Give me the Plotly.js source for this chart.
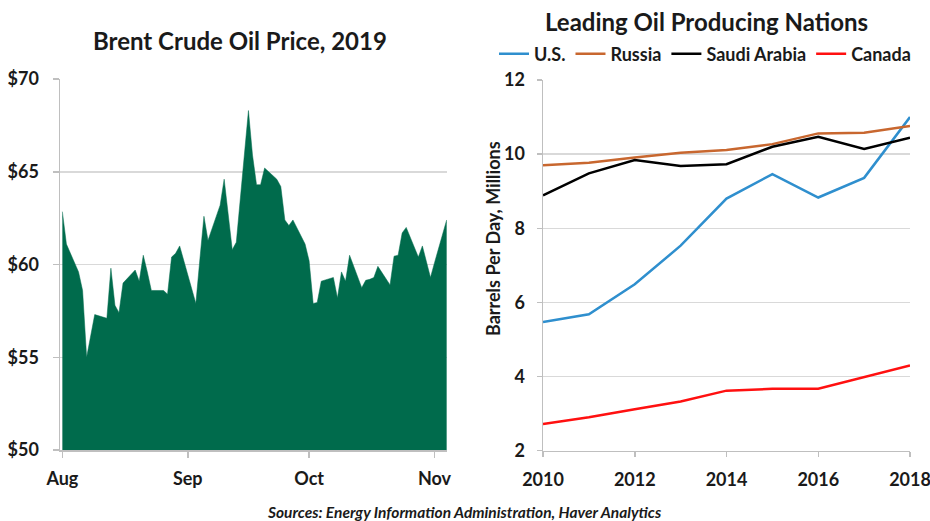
<!DOCTYPE html>
<html>
<head>
<meta charset="utf-8">
<script src="https://cdn.plot.ly/plotly-3.0.1.min.js"></script>
<style>
  html, body { margin: 0; padding: 0; background: #fff; }
  #chart { width: 930px; height: 521px; }
</style>
</head>
<body>
<div id="chart"></div>
<script>
// ---- Left panel data: Brent crude spot price, 2019 ----
const brentDates = [
  '2019-08-01','2019-08-02','2019-08-05','2019-08-06','2019-08-07','2019-08-08','2019-08-09',
  '2019-08-12','2019-08-13','2019-08-14','2019-08-15','2019-08-16',
  '2019-08-19','2019-08-20','2019-08-21','2019-08-22','2019-08-23',
  '2019-08-26','2019-08-27','2019-08-28','2019-08-29','2019-08-30',
  '2019-09-03','2019-09-04','2019-09-05','2019-09-06',
  '2019-09-09','2019-09-10','2019-09-11','2019-09-12','2019-09-13',
  '2019-09-16','2019-09-17','2019-09-18','2019-09-19','2019-09-20',
  '2019-09-23','2019-09-24','2019-09-25','2019-09-26','2019-09-27',
  '2019-09-30','2019-10-01','2019-10-02','2019-10-03','2019-10-04',
  '2019-10-07','2019-10-08','2019-10-09','2019-10-10','2019-10-11',
  '2019-10-14','2019-10-15','2019-10-16','2019-10-17','2019-10-18',
  '2019-10-21','2019-10-22','2019-10-23','2019-10-24','2019-10-25',
  '2019-10-28','2019-10-29','2019-10-30','2019-10-31','2019-11-01',
  '2019-11-04'
];
const brentPrices = [
  62.85, 61.1, 59.6, 58.6, 55.0, 56.2, 57.3,
  57.1, 59.8, 57.8, 57.4, 59.0,
  59.7, 59.1, 60.5, 59.6, 58.6,
  58.6, 58.4, 60.4, 60.6, 61.0,
  57.9, 60.3, 62.6, 61.3,
  63.2, 64.6, 62.7, 60.8, 61.2,
  68.3, 65.9, 64.3, 64.3, 65.2,
  64.6, 64.2, 62.4, 62.1, 62.4,
  61.1, 60.2, 57.9, 57.95, 59.1,
  59.3, 58.2, 59.6, 59.1, 60.5,
  58.75, 59.15, 59.2, 59.3, 59.9,
  58.9, 60.45, 60.5, 61.7, 62.0,
  60.4, 61.0, 60.1, 59.3, 60.1,
  62.4
];
const monthTicks = ['2019-08-01','2019-09-01','2019-10-01','2019-11-01'];
const monthLabels = ['Aug','Sep','Oct','Nov'];
const priceTicks = [50, 55, 60, 65, 70];
const priceLabels = ['$50', '$55', '$60', '$65', '$70'];

// ---- Right panel data: production, millions of barrels per day ----
const years = [2010, 2011, 2012, 2013, 2014, 2015, 2016, 2017, 2018];
const usOutput     = [5.47, 5.68, 6.49, 7.53, 8.80, 9.46, 8.83, 9.36, 11.00];
const russiaOutput = [9.70, 9.77, 9.91, 10.04, 10.11, 10.27, 10.56, 10.58, 10.76];
const saudiOutput  = [8.89, 9.48, 9.84, 9.68, 9.73, 10.20, 10.47, 10.14, 10.44];
const canadaOutput = [2.72, 2.90, 3.12, 3.33, 3.62, 3.67, 3.67, 3.99, 4.30];
const seriesNames  = ['U.S.', 'Russia', 'Saudi Arabia', 'Canada'];
const yearTicks = [2010, 2012, 2014, 2016, 2018];
const outputTicks = [2, 4, 6, 8, 10, 12];

const W = 930, H = 521;
const px = v => v / W;
const py = v => (H - v) / H;

const FONT = 'Lato, "Open Sans", sans-serif';
const gridC = '#D9D9D9';
const axisC = '#BFBFBF';
const txtC = '#1a1a1a';
const colors = ['#2F8FCE', '#C8672F', '#000000', '#FF1010'];

const traces = [
  {
    x: brentDates, y: brentPrices, type: 'scatter', mode: 'lines',
    fill: 'tozeroy', fillcolor: '#006B4C',
    line: { color: '#006B4C', width: 0.5 },
    xaxis: 'x', yaxis: 'y', showlegend: false, hoverinfo: 'skip'
  }
];
const outputs = [usOutput, russiaOutput, saudiOutput, canadaOutput];
outputs.forEach((vals, i) => {
  traces.push({
    x: years, y: vals, type: 'scatter', mode: 'lines', name: seriesNames[i],
    line: { color: colors[i], width: 2.5 },
    xaxis: 'x2', yaxis: 'y2', hoverinfo: 'skip'
  });
});

const tickFont = { family: FONT, size: 18, color: txtC, weight: 700 };

const layout = {
  width: W, height: H,
  margin: { l: 0, r: 0, t: 0, b: 0 },
  paper_bgcolor: '#fff', plot_bgcolor: 'rgba(0,0,0,0)',
  font: { family: FONT, color: txtC },
  showlegend: true,
  legend: {
    orientation: 'h', x: px(494), xanchor: 'left', y: py(54), yanchor: 'middle',
    font: { family: FONT, size: 18, color: txtC, weight: 700 },
    itemwidth: 30, tracegroupgap: 0, bgcolor: 'rgba(0,0,0,0)'
  },
  xaxis: {
    domain: [px(60), px(447)],
    type: 'date',
    range: ['2019-07-31 10:00', '2019-11-04 02:00'],
    tickvals: monthTicks, ticktext: monthLabels,
    showgrid: false, zeroline: false,
    showline: true, linecolor: axisC, linewidth: 1.5,
    ticks: 'outside', ticklen: 6, tickcolor: axisC, tickwidth: 1.5,
    ticklabelstandoff: 6, ticklabeloverflow: 'allow',
    tickfont: tickFont, anchor: 'y'
  },
  yaxis: {
    domain: [py(450), py(79)],
    range: [50, 70],
    tickvals: priceTicks, ticktext: priceLabels,
    showgrid: true, gridcolor: gridC, gridwidth: 1.5, zeroline: false,
    showline: true, linecolor: axisC, linewidth: 1.5,
    ticks: 'outside', ticklen: 6, tickcolor: axisC, tickwidth: 1.5,
    ticklabelstandoff: 10, ticklabeloverflow: 'allow',
    tickfont: tickFont, anchor: 'x', layer: 'below traces'
  },
  xaxis2: {
    domain: [px(543), px(910)],
    range: [2010, 2018],
    tickvals: yearTicks,
    showgrid: false, zeroline: false,
    showline: true, linecolor: axisC, linewidth: 1.5,
    ticks: 'outside', ticklen: 5, tickcolor: axisC, tickwidth: 1.5,
    ticklabelstandoff: 7, ticklabeloverflow: 'allow',
    tickfont: tickFont, anchor: 'y2'
  },
  yaxis2: {
    domain: [py(450.7), py(80)],
    range: [2, 12],
    tickvals: outputTicks,
    showgrid: true, gridcolor: gridC, gridwidth: 1.5, zeroline: false,
    showline: true, linecolor: axisC, linewidth: 1.5,
    ticks: 'outside', ticklen: 5, tickcolor: axisC, tickwidth: 1.5,
    ticklabelstandoff: 8, ticklabeloverflow: 'allow',
    tickfont: tickFont, anchor: 'x2'
  },
  annotations: [
    { text: 'Brent Crude Oil Price, 2019', xref: 'paper', yref: 'paper',
      x: px(240), y: py(40), xanchor: 'center', yanchor: 'middle', showarrow: false,
      font: { family: FONT, size: 24, color: txtC, weight: 700 } },
    { text: 'Leading Oil Producing Nations', xref: 'paper', yref: 'paper',
      x: px(706), y: py(21), xanchor: 'center', yanchor: 'middle', showarrow: false,
      font: { family: FONT, size: 24, color: txtC, weight: 700 } },
    { text: 'Barrels Per Day, Millions', xref: 'paper', yref: 'paper',
      x: px(493), y: py(239), xanchor: 'center', yanchor: 'middle', showarrow: false,
      textangle: -90,
      font: { family: FONT, size: 18, color: txtC, weight: 700 } },
    { text: '<i>Sources: Energy Information Administration, Haver Analytics</i>',
      xref: 'paper', yref: 'paper',
      x: px(464), y: py(512), xanchor: 'center', yanchor: 'middle', showarrow: false,
      font: { family: FONT, size: 15.5, color: txtC, weight: 700 } }
  ]
};

Plotly.newPlot('chart', traces, layout, { staticPlot: true, displayModeBar: false });
</script>
</body>
</html>
